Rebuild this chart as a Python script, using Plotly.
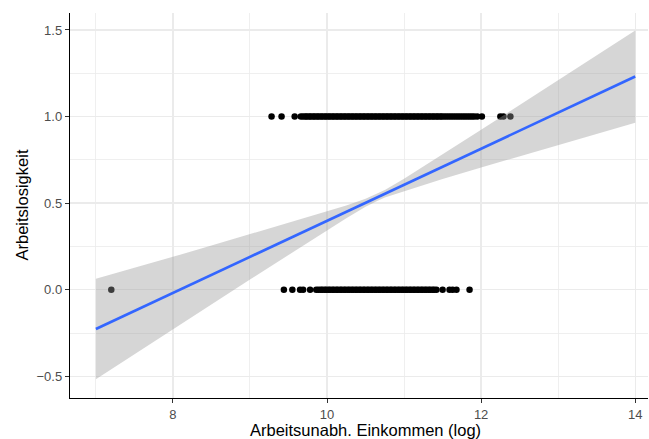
import plotly.graph_objects as go

# Observed points (x = log income, y = unemployment indicator)
unemployed_x = [9.28, 9.41, 9.58, 9.66, 9.69, 9.72, 9.74, 9.77, 9.79, 9.82, 9.84, 9.87, 9.89,
                9.92, 9.94, 9.97, 9.99, 10.02, 10.04, 10.07, 10.09, 10.12, 10.14, 10.17, 10.19,
                10.22, 10.24, 10.27, 10.29, 10.32, 10.34, 10.37, 10.39, 10.42, 10.44, 10.47,
                10.49, 10.52, 10.54, 10.57, 10.59, 10.62, 10.64, 10.67, 10.69, 10.72, 10.74,
                10.77, 10.79, 10.82, 10.84, 10.87, 10.89, 10.92, 10.94, 10.97, 10.99, 11.02,
                11.04, 11.07, 11.09, 11.12, 11.14, 11.17, 11.19, 11.22, 11.24, 11.27, 11.29,
                11.32, 11.34, 11.37, 11.39, 11.42, 11.44, 11.47, 11.49, 11.52, 11.55, 11.58,
                11.61, 11.64, 11.67, 11.70, 11.73, 11.76, 11.79, 11.82, 11.85, 11.88, 11.91,
                11.95, 12.01, 12.25, 12.29, 12.38]
unemployed_y = [1.0] * len(unemployed_x)

employed_x = [7.20, 9.44, 9.55, 9.65, 9.69, 9.78, 9.86, 9.89, 9.92, 9.94, 9.97, 9.99, 10.02,
              10.04, 10.07, 10.09, 10.12, 10.14, 10.17, 10.19, 10.22, 10.24, 10.27, 10.29,
              10.32, 10.34, 10.37, 10.39, 10.42, 10.44, 10.47, 10.49, 10.52, 10.54, 10.57,
              10.59, 10.62, 10.64, 10.67, 10.69, 10.72, 10.74, 10.77, 10.79, 10.82, 10.84,
              10.87, 10.89, 10.92, 10.94, 10.97, 10.99, 11.02, 11.04, 11.07, 11.09, 11.12,
              11.14, 11.17, 11.19, 11.22, 11.24, 11.27, 11.29, 11.32, 11.34, 11.37, 11.39,
              11.42, 11.50, 11.59, 11.63, 11.68, 11.85]
employed_y = [0.0] * len(employed_x)

# Linear smoother with confidence band
smooth_x = [7.0, 7.5, 8.0, 8.5, 9.0, 9.5, 10.0, 10.25, 10.5, 10.65, 10.75, 11.0, 11.5,
            12.0, 12.5, 13.0, 13.5, 14.0]
smooth_fit = [-0.227, -0.123, -0.019, 0.085, 0.190, 0.294, 0.398, 0.450, 0.502, 0.533, 0.554,
              0.606, 0.710, 0.815, 0.919, 1.023, 1.127, 1.231]
smooth_upper = [0.063, 0.125, 0.190, 0.255, 0.321, 0.387, 0.452, 0.487, 0.525, 0.553, 0.576,
                0.641, 0.780, 0.924, 1.067, 1.210, 1.353, 1.497]
smooth_lower = [-0.517, -0.371, -0.228, -0.085, 0.059, 0.201, 0.344, 0.413, 0.479, 0.513,
                0.532, 0.571, 0.640, 0.706, 0.771, 0.836, 0.901, 0.965]

x_title = "Arbeitsunabh. Einkommen (log)"
y_title = "Arbeitslosigkeit"

FONT = "Liberation Sans, Arial, Helvetica, sans-serif"

fig = go.Figure()

fig.add_trace(go.Scatter(x=unemployed_x + employed_x, y=unemployed_y + employed_y,
                         mode="markers", marker=dict(color="black", size=6.5, line=dict(width=0)),
                         hoverinfo="skip", showlegend=False))

fig.add_trace(go.Scatter(x=smooth_x + smooth_x[::-1], y=smooth_upper + smooth_lower[::-1],
                         mode="lines", fill="toself", fillcolor="rgba(153,153,153,0.4)",
                         line=dict(width=0), hoverinfo="skip", showlegend=False))

fig.add_trace(go.Scatter(x=smooth_x, y=smooth_fit, mode="lines",
                         line=dict(color="#3366FF", width=2.7), hoverinfo="skip",
                         showlegend=False))

axis_common = dict(
    showline=True, linecolor="black", linewidth=1.2,
    ticks="outside", ticklen=4, tickwidth=1, tickcolor="#333333",
    tickfont=dict(family=FONT, size=13, color="#4D4D4D"),
    showgrid=True, gridcolor="#EBEBEB", gridwidth=1.4,
    zeroline=False, mirror=False, automargin=False,
)

fig.update_xaxes(range=[6.664, 14.166], tick0=0, dtick=2,
                 minor=dict(dtick=1, showgrid=True, gridcolor="#EBEBEB", gridwidth=0.8),
                 **axis_common)
fig.update_yaxes(range=[-0.625, 1.598], tick0=0, dtick=0.5, tickformat=".1f",
                 minor=dict(dtick=0.25, showgrid=True, gridcolor="#EBEBEB", gridwidth=0.8),
                 **axis_common)

fig.add_annotation(text=x_title, xref="x", yref="paper", x=10.5, y=0, yshift=-32,
                   xanchor="center", yanchor="middle", showarrow=False,
                   font=dict(family=FONT, size=16.5, color="black"))
fig.add_annotation(text=y_title, xref="paper", yref="paper", x=0, y=0.5, xshift=-49,
                   xanchor="center", yanchor="middle", textangle=-90, showarrow=False,
                   font=dict(family=FONT, size=16.5, color="black"))

fig.update_layout(width=649, height=439, margin=dict(l=70, r=1, t=13, b=41),
                  plot_bgcolor="white", paper_bgcolor="white",
                  font=dict(family=FONT), showlegend=False, hovermode=False)

fig.write_html("out.html", config={"displayModeBar": False, "staticPlot": True},
               post_script="document.body.style.margin='0';document.body.style.overflow='hidden';")
